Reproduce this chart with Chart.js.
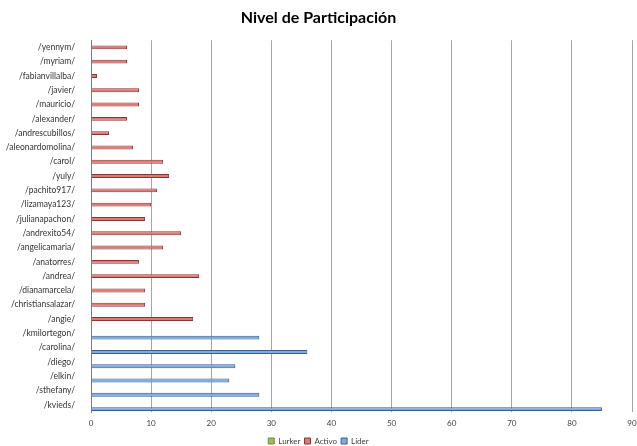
<!DOCTYPE html>
<html>
<head>
<meta charset="utf-8">
<script src="https://cdn.jsdelivr.net/npm/chart.js@4.4.1/dist/chart.umd.min.js"></script>
<style>
  html, body { margin: 0; padding: 0; background: #ffffff; }
  #wrap { width: 637px; height: 446px; }
</style>
</head>
<body>
<div id="wrap"><canvas id="c" width="637" height="446"></canvas></div>
<script>
// Participantes (de arriba hacia abajo)
const usuarios = [
  '/yennym/', '/myriam/', '/fabianvillalba/', '/javier/', '/mauricio/',
  '/alexander/', '/andrescubillos/', '/aleonardomolina/', '/carol/', '/yuly/',
  '/pachito917/', '/lizamaya123/', '/julianapachon/', '/andrexito54/', '/angelicamaria/',
  '/anatorres/', '/andrea/', '/dianamarcela/', '/christiansalazar/', '/angie/',
  '/kmilortegon/', '/carolina/', '/diego/', '/elkin/', '/sthefany/', '/kvieds/'
];

// Aportes por nivel de participación
const lurker = [
  null, null, null, null, null, null, null, null, null, null, null, null, null,
  null, null, null, null, null, null, null, null, null, null, null, null, null
];
const activo = [
  6, 6, 1, 8, 8, 6, 3, 7, 12, 13, 11, 10, 9,
  15, 12, 8, 18, 9, 9, 17, null, null, null, null, null, null
];
const lider = [
  null, null, null, null, null, null, null, null, null, null, null, null, null,
  null, null, null, null, null, null, null, 28, 36, 24, 23, 28, 85
];

const ejeX = { min: 0, max: 90, paso: 10 };

const FONT = 'Lato, "Open Sans", "Liberation Sans", sans-serif';

new Chart(document.getElementById('c'), {
  type: 'bar',
  data: {
    labels: usuarios,
    datasets: [
      { label: 'Lurker', data: lurker, backgroundColor: '#9bbb59', borderColor: '#71893f', borderWidth: 1 },
      { label: 'Activo', data: activo, backgroundColor: '#dc7a77', borderColor: '#8e3431', borderWidth: 1 },
      { label: 'Líder', data: lider, backgroundColor: '#80a9dc', borderColor: '#345f95', borderWidth: 1 }
    ]
  },
  options: {
    indexAxis: 'y',
    responsive: false,
    animation: false,
    devicePixelRatio: 1,
    categoryPercentage: 0.9,
    barPercentage: 0.92,
    // la leyenda se deja caer un poco más abajo del borde inferior
    layout: { padding: { left: 0, right: 0, top: 0, bottom: -9 } },
    scales: {
      x: {
        min: ejeX.min,
        max: ejeX.max,
        ticks: { stepSize: ejeX.paso, color: '#404040', font: { family: FONT, size: 8 }, padding: 7 },
        grid: { color: '#a6a6a6', lineWidth: 1, tickLength: 0, drawTicks: false },
        border: { display: false },
        afterFit(scale) {
          scale.height = 21;
          scale.paddingRight = 5;
          scale.paddingLeft = 0;
        }
      },
      y: {
        ticks: { color: '#333333', font: { family: FONT, size: 8.5 }, padding: 8, autoSkip: false },
        grid: { display: false },
        border: { display: true, color: '#7f7f7f', width: 1 },
        afterFit(scale) { scale.width = 91; }
      }
    },
    plugins: {
      title: {
        display: true,
        text: 'Nivel de Participación',
        color: '#000000',
        font: { family: FONT, size: 16, weight: 'bold' },
        padding: { top: 8, bottom: 13 }
      },
      legend: {
        display: true,
        position: 'bottom',
        labels: {
          boxWidth: 6,
          boxHeight: 6,
          padding: 4,
          color: '#404040',
          font: { family: FONT, size: 8 }
        }
      },
      tooltip: { enabled: false }
    }
  }
});
</script>
</body>
</html>
